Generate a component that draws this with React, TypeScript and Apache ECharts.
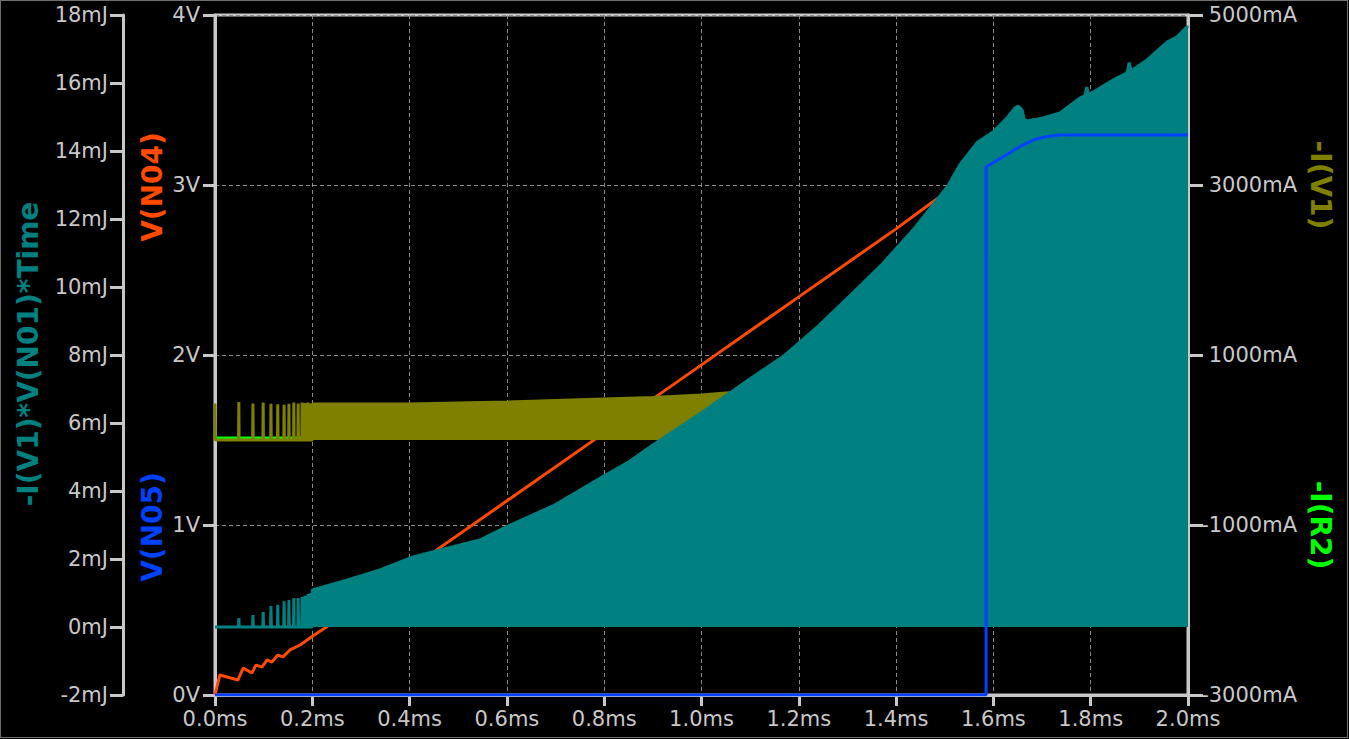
import React, { useEffect, useRef } from "react";
import * as echarts from "echarts";

// ---- data (time in ms) ----
const spikeTimes = [0.049, 0.078, 0.099, 0.115, 0.129, 0.142, 0.152, 0.162, 0.171, 0.179, 0.185, 0.191, 0.197];
const tealSpikePeaks = [0.26, 0.35, 0.44, 0.62, 0.65, 0.76, 0.79, 0.85, 0.85, 0.88, 0.92, 0.97, 1.0];
const oliveSpikePeaks = [447, 430, 440, 425, 420, 415, 425, 440, 430, 440, 435, 440, 430];
const oliveFirstSpike = 430;

const tealEnvTimes = [0.2, 0.271, 0.339, 0.407, 0.477, 0.545, 0.6, 0.7, 0.8, 0.85, 0.9, 1.0, 1.05, 1.1, 1.172, 1.24, 1.305, 1.37, 1.435, 1.505, 1.531, 1.566, 1.599, 1.628, 1.644, 1.651, 1.659, 1.663, 1.669, 1.702, 1.737, 1.778, 1.788, 1.792, 1.796, 1.846, 1.875, 1.879, 1.883, 1.916, 1.957, 1.977, 2.0];
const tealEnvTop = [1.09, 1.38, 1.68, 2.06, 2.32, 2.56, 2.95, 3.6, 4.45, 4.85, 5.35, 6.3, 6.8, 7.3, 8.0, 8.85, 9.74, 10.65, 11.68, 12.94, 13.59, 14.24, 14.56, 14.97, 15.26, 15.32, 15.21, 14.94, 14.88, 14.97, 15.12, 15.56, 15.62, 15.88, 15.65, 16.09, 16.3, 16.6, 16.35, 16.68, 17.2, 17.35, 17.68];

const oliveEnvTimes = [0.2, 0.4, 0.6, 0.7, 0.8, 0.9, 1.0, 1.05, 1.2, 1.6, 2.0];
const oliveEnvTop = [424, 424, 447, 465, 482, 500, 529, 553, 580, 620, 650];

const greenTimes = [0, 2.0];
const greenValues = [24, 24];

const orangeTimes = [0, 0.01, 0.047, 0.058, 0.076, 0.084, 0.097, 0.107, 0.117, 0.129, 0.14, 0.154, 0.175, 0.201, 0.226, 0.4, 0.8, 1.0, 1.2, 1.4, 1.47, 1.55];
const orangeValues = [0, 0.118, 0.088, 0.159, 0.129, 0.176, 0.165, 0.206, 0.194, 0.235, 0.224, 0.265, 0.294, 0.347, 0.394, 0.742, 1.542, 1.942, 2.342, 2.742, 2.89, 3.05];

const blueTimes = [0, 1.585, 1.585, 1.634, 1.66, 1.685, 1.71, 1.737, 2.0];
const blueValues = [0, 0, 3.106, 3.19, 3.235, 3.268, 3.285, 3.294, 3.294];

const axisTitles = {
  energy: "-I(V1)*V(N01)*Time",
  vN04: "V(N04)",
  vN05: "V(N05)",
  iV1: "-I(V1)",
  iR2: "-I(R2)",
};

const GRAY = "#c8c8c8";
const FONT = "DejaVu Sans";

function zip(xs: number[], ys: number[]) {
  return xs.map((x, i) => [x, ys[i]]);
}

function buildTeal() {
  const d: number[][] = [[0, 0]];
  spikeTimes.forEach((t, i) => {
    d.push([t - 0.0008, 0], [t, tealSpikePeaks[i]], [t + 0.0008, 0]);
  });
  d.push([0.2, 0]);
  tealEnvTimes.forEach((t, i) => d.push([t, tealEnvTop[i]]));
  return d;
}

function buildOlive() {
  const d: number[][] = [[0, 0], [0, oliveFirstSpike], [0.0008, 0]];
  spikeTimes.forEach((t, i) => {
    d.push([t - 0.0006, 0], [t, oliveSpikePeaks[i]], [t + 0.0006, 0]);
  });
  d.push([0.2, 0]);
  oliveEnvTimes.forEach((t, i) => d.push([t, oliveEnvTop[i]]));
  return d;
}

export default function App() {
  const ref = useRef<HTMLDivElement>(null);
  useEffect(() => {
    if (!ref.current) return;
    const chart = echarts.init(ref.current, undefined, { renderer: "svg" });
    const axisLine = { show: true, onZero: false, lineStyle: { color: GRAY, width: 3 } };
    const label = { color: GRAY, fontSize: 21, fontFamily: FONT, showMinLabel: true, showMaxLabel: true };
    const dashed = { show: true, lineStyle: { color: "#8a8a8a", width: 1, type: [4, 3] } };
    const titleText = (text: string, x: number, y: number, color: string, rot: number) => ({
      type: "text",
      x,
      y,
      rotation: rot,
      z: 100,
      style: {
        text,
        fill: color,
        font: `bold 28px "${FONT}"`,
        textAlign: "center",
        textVerticalAlign: "middle",
      },
    });
    chart.setOption({
      animation: false,
      backgroundColor: "#000000",
      grid: {
        left: 215,
        right: 161,
        top: 15,
        bottom: 44,
        show: true,
        borderColor: GRAY,
        borderWidth: 3,
        backgroundColor: "transparent",
      },
      xAxis: {
        type: "value",
        min: 0,
        max: 2,
        interval: 0.2,
        axisLine,
        axisTick: { show: true, length: 11, lineStyle: { color: GRAY, width: 3 } },
        axisLabel: { ...label, margin: 13, formatter: (v: number) => v.toFixed(1) + "ms" },
        splitLine: dashed,
      },
      yAxis: [
        {
          type: "value",
          position: "left",
          offset: 0,
          min: 0,
          max: 4,
          interval: 1,
          axisLine,
          axisTick: { show: true, length: 12, lineStyle: { color: GRAY, width: 3 } },
          axisLabel: { ...label, margin: 15, formatter: (v: number) => `${v}V` },
          splitLine: dashed,
        },
        {
          type: "value",
          position: "left",
          offset: 92,
          min: -2,
          max: 18,
          interval: 2,
          axisLine,
          axisTick: { show: true, length: 13, lineStyle: { color: GRAY, width: 3 } },
          axisLabel: { ...label, margin: 15, formatter: (v: number) => `${v}mJ` },
          splitLine: { show: false },
        },
        {
          type: "value",
          position: "right",
          offset: 0,
          min: -3000,
          max: 5000,
          interval: 2000,
          axisLine,
          axisTick: { show: true, length: 15, lineStyle: { color: GRAY, width: 3 } },
          axisLabel: { ...label, margin: 109, align: "right", formatter: (v: number) => `${v}mA` },
          splitLine: { show: false },
        },
      ],
      series: [
        {
          name: axisTitles.vN04,
          type: "line",
          yAxisIndex: 0,
          z: 3,
          data: zip(orangeTimes, orangeValues),
          showSymbol: false,
          lineStyle: { color: "#ff4a00", width: 3 },
        },
        {
          name: axisTitles.iR2,
          type: "line",
          yAxisIndex: 2,
          z: 4,
          data: zip(greenTimes, greenValues),
          showSymbol: false,
          lineStyle: { color: "#00ff00", width: 3 },
        },
        {
          name: axisTitles.iV1,
          type: "line",
          yAxisIndex: 2,
          z: 5,
          data: buildOlive(),
          showSymbol: false,
          lineStyle: { color: "#808000", width: 3 },
          areaStyle: { color: "#808000", opacity: 1 },
        },
        {
          name: axisTitles.energy,
          type: "line",
          yAxisIndex: 1,
          z: 6,
          data: buildTeal(),
          showSymbol: false,
          lineStyle: { color: "#008080", width: 3 },
          areaStyle: { color: "#008080", opacity: 1 },
        },
        {
          name: axisTitles.vN05,
          type: "line",
          yAxisIndex: 0,
          z: 7,
          data: zip(blueTimes, blueValues),
          showSymbol: false,
          lineStyle: { color: "#0040ff", width: 3 },
        },
      ],
      graphic: [
        {
          type: "rect",
          shape: { x: 0.5, y: 0.5, width: 1347, height: 737 },
          style: { fill: "none", stroke: "#e0e0e0", lineWidth: 1, lineDash: [1, 1] },
          z: 100,
        },
        titleText(axisTitles.energy, 28, 354, "#008080", Math.PI / 2),
        titleText(axisTitles.vN04, 152, 187, "#ff4a00", Math.PI / 2),
        titleText(axisTitles.vN05, 152, 527, "#0040ff", Math.PI / 2),
        titleText(axisTitles.iV1, 1320, 185, "#808000", -Math.PI / 2),
        titleText(axisTitles.iR2, 1320, 525, "#00ff00", -Math.PI / 2),
      ],
    });
    return () => chart.dispose();
  }, []);
  return (
    <div
      ref={ref}
      style={{ position: "fixed", left: 0, top: 0, width: 1349, height: 739, background: "#000" }}
    />
  );
}
